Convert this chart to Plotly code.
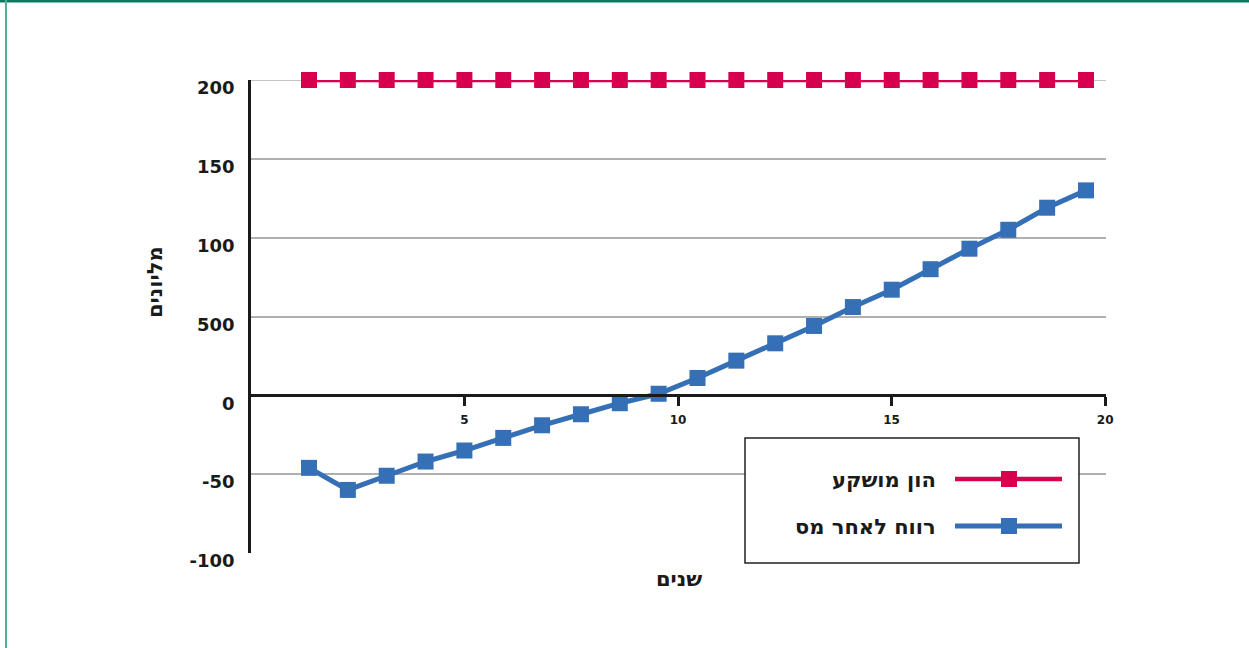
import plotly.graph_objects as go

# Years (21 yearly observations) and the two series, in millions
years = list(range(1, 22))
invested_capital = [200] * 21
profit_after_tax = [-46, -60, -51, -42, -35, -27, -19, -12, -5, 1, 11, 22, 33,
                    44, 56, 67, 80, 93, 105, 119, 130]

x_tick_vals = [5, 10, 15, 20]
x_tick_text = ["5", "10", "15", "20"]
y_tick_vals = [-100, -50, 0, 50, 100, 150, 200]
y_tick_text = ["-100", "-50", "0", "500", "100", "150", "200"]

series_names = ["הון מושקע", "רווח לאחר מס"]
series_colors = ["#d6004f", "#356fb5"]

W, H = 1249, 648
L, R, T, B = 251, 143, 80, 95
PW, PH = W - L - R, H - T - B
FONT = "DejaVu Sans"
INK = "#1a1a1a"
GRID = "#b0b0b0"


def px(xp):
    return (xp - L) / PW


def py(yp):
    return (H - B - yp) / PH


fig = go.Figure()
for vals, name, color, lw in zip([invested_capital, profit_after_tax],
                                 series_names, series_colors, [4.5, 5]):
    fig.add_trace(go.Scatter(
        x=years, y=vals, name=name, mode="lines+markers",
        xaxis="x2", yaxis="y",
        line=dict(color=color, width=lw),
        marker=dict(symbol="square", size=16, color=color),
        showlegend=False, cliponaxis=False,
    ))

# hidden anchor trace so the labelled year axis is drawn
fig.add_trace(go.Scatter(x=[None], y=[None], xaxis="x", yaxis="y",
                         showlegend=False, hoverinfo="skip"))

shapes = []
annotations = []

# top gridline at the upper end of the value range
shapes.append(dict(type="line", xref="paper", yref="y",
                   x0=0, x1=1, y0=max(y_tick_vals), y1=max(y_tick_vals),
                   line=dict(color=GRID, width=1.5), layer="below"))

# legend box with right-to-left entries
shapes.append(dict(type="rect", xref="paper", yref="paper",
                   x0=px(745), x1=px(1079), y0=py(563), y1=py(438),
                   line=dict(color="#222222", width=1.5), fillcolor="white",
                   layer="above"))
for name, color, yy, lw in zip(series_names, series_colors, [479, 526], [4.5, 5]):
    shapes.append(dict(type="line", xref="paper", yref="paper",
                       x0=px(955), x1=px(1062), y0=py(yy), y1=py(yy),
                       line=dict(color=color, width=lw), layer="above"))
    shapes.append(dict(type="rect", xref="paper", yref="paper",
                       x0=px(1001), x1=px(1017), y0=py(yy + 8), y1=py(yy - 8),
                       line=dict(width=0), fillcolor=color, layer="above"))
    annotations.append(dict(text="<b>%s</b>" % name, xref="paper", yref="paper",
                            x=px(938), y=py(yy + 1), xanchor="right", yanchor="middle",
                            showarrow=False,
                            font=dict(family=FONT, size=21, color=INK)))

# outer frame: top and left rules
shapes.append(dict(type="line", xref="paper", yref="paper",
                   x0=px(0), x1=px(W), y0=py(1), y1=py(1),
                   line=dict(color="#0b7a5e", width=3)))
shapes.append(dict(type="line", xref="paper", yref="paper",
                   x0=px(6), x1=px(6), y0=py(0), y1=py(H),
                   line=dict(color="#5aab98", width=2)))

# axis titles
annotations.append(dict(text="<b>מליונים</b>", xref="paper", yref="paper",
                        x=px(155), y=py(282), textangle=-90, showarrow=False,
                        xanchor="center", yanchor="middle",
                        font=dict(family=FONT, size=21, color=INK)))
annotations.append(dict(text="<b>שנים</b>", xref="paper", yref="paper",
                        x=px(679), y=py(579), showarrow=False,
                        xanchor="center", yanchor="middle",
                        font=dict(family=FONT, size=21, color=INK)))

fig.update_layout(
    width=W, height=H,
    margin=dict(l=L, r=R, t=T, b=B, pad=0),
    paper_bgcolor="white", plot_bgcolor="white",
    showlegend=False,
    xaxis=dict(range=[0, 20.02], tickvals=x_tick_vals, ticktext=x_tick_text,
               anchor="free", position=(0 - (-100)) / 300,
               showgrid=False, zeroline=False,
               showline=True, linecolor=INK, linewidth=2.5,
               ticks="outside", ticklen=9, tickwidth=2.5, tickcolor=INK,
               ticklabelstandoff=4,
               tickfont=dict(family=FONT, size=12, color=INK, weight="bold")),
    xaxis2=dict(range=[-0.493, 21.515], overlaying="x", visible=False),
    yaxis=dict(range=[-100, 200], tickvals=y_tick_vals, ticktext=y_tick_text,
               showgrid=True, gridcolor=GRID, gridwidth=1.5,
               zeroline=False,
               showline=True, linecolor=INK, linewidth=2.5,
               ticks="", ticklabelstandoff=10, ticklabelshift=8,
               tickfont=dict(family=FONT, size=18, color=INK, weight="bold")),
    shapes=shapes,
    annotations=annotations,
)

fig.write_html("out.html")
